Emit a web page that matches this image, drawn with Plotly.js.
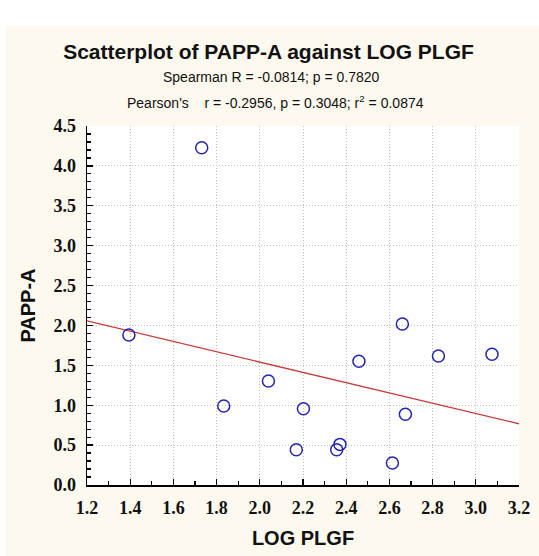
<!DOCTYPE html>
<html>
<head>
<meta charset="utf-8">
<script src="https://cdn.plot.ly/plotly-3.0.1.min.js"></script>
<style>
  html, body { margin: 0; padding: 0; background: #ffffff; }
  #chart { width: 539px; height: 556px; }
</style>
</head>
<body>
<div id="chart"></div>
<script>
// LOG PLGF (x) and PAPP-A (y) for each case
const logPlgf = [1.394, 1.731, 1.833, 2.040, 2.202, 2.169, 2.356, 2.371, 2.459, 2.660, 2.614, 2.674, 2.827, 3.075];
const pappA   = [1.881, 4.227, 0.990, 1.304, 0.956, 0.442, 0.442, 0.509, 1.551, 2.019, 0.275, 0.886, 1.617, 1.639];

const xTickVals = [1.2, 1.4, 1.6, 1.8, 2.0, 2.2, 2.4, 2.6, 2.8, 3.0, 3.2];
const xTickText = ['1.2', '1.4', '1.6', '1.8', '2.0', '2.2', '2.4', '2.6', '2.8', '3.0', '3.2'];
const yTickVals = [0, 0.5, 1.0, 1.5, 2.0, 2.5, 3.0, 3.5, 4.0, 4.5];
const yTickText = ['0.0', '0.5', '1.0', '1.5', '2.0', '2.5', '3.0', '3.5', '4.0', '4.5'];

const chartTitle = 'Scatterplot of PAPP-A against LOG PLGF';
const spearmanText = 'Spearman R = -0.0814; p = 0.7820';
const pearsonText = "Pearson's\u00A0\u00A0\u00A0\u00A0r = -0.2956, p = 0.3048; r<sup>2</sup> = 0.0874";

// ordinary least-squares fit of PAPP-A on LOG PLGF
function linearFit(xs, ys) {
  const n = xs.length;
  const mx = xs.reduce((a, b) => a + b, 0) / n;
  const my = ys.reduce((a, b) => a + b, 0) / n;
  let sxy = 0, sxx = 0;
  for (let i = 0; i < n; i++) {
    sxy += (xs[i] - mx) * (ys[i] - my);
    sxx += (xs[i] - mx) * (xs[i] - mx);
  }
  const slope = sxy / sxx;
  return { slope: slope, intercept: my - slope * mx };
}
const fit = linearFit(logPlgf, pappA);
const fitX = [xTickVals[0], xTickVals[xTickVals.length - 1]];
const fitY = fitX.map(v => fit.intercept + fit.slope * v);

const sans = 'Liberation Sans, Arial, sans-serif';
const tickFont = { family: 'Liberation Serif, Times New Roman, serif', size: 18, color: '#111111', weight: 'bold' };
const labelFont = { family: sans, size: 20, color: '#111111', weight: 'bold' };
const noteFont = { family: sans, size: 14, color: '#111111' };

const traces = [
  {
    x: fitX, y: fitY, type: 'scatter', mode: 'lines',
    line: { color: '#c83c3c', width: 1.4 },
    hoverinfo: 'skip', showlegend: false
  },
  {
    x: logPlgf, y: pappA, type: 'scatter', mode: 'markers',
    marker: { symbol: 'circle-open', size: 12, color: '#2424b0', line: { width: 1.5, color: '#2424b0' } },
    showlegend: false
  }
];

// plot area in pixels: left 87, right 519, top 126, bottom 485
const px = v => (v - 87) / 432;
const py = v => (485 - v) / 359;

const layout = {
  width: 539, height: 556,
  margin: { l: 87, r: 20, t: 126, b: 71, pad: 0 },
  paper_bgcolor: '#fdf9ee',
  plot_bgcolor: '#ffffff',
  showlegend: false,
  title: {
    text: '<b>' + chartTitle + '</b>',
    font: { family: sans, size: 21, color: '#111111' },
    x: 268.5 / 539, xanchor: 'center', xref: 'container',
    y: 1 - 52 / 556, yanchor: 'middle', yref: 'container'
  },
  xaxis: {
    range: [1.2, 3.2],
    tickvals: xTickVals, ticktext: xTickText,
    tickfont: tickFont,
    ticks: 'inside', ticklen: 6, tickwidth: 1.3, tickcolor: '#000000',
    minor: { dtick: 0.1, ticks: 'inside', ticklen: 4, tickwidth: 1.2, tickcolor: '#000000', showgrid: false },
    showline: true, linecolor: '#000000', linewidth: 1.5, mirror: false,
    showgrid: true, gridcolor: '#c0c0c0', gridwidth: 1, griddash: '1px,2px',
    zeroline: false, ticklabelstandoff: 6,
    title: { text: '<b>LOG PLGF</b>', font: labelFont, standoff: 14 }
  },
  yaxis: {
    range: [0, 4.5],
    tickvals: yTickVals, ticktext: yTickText,
    tickfont: tickFont,
    ticks: 'inside', ticklen: 6, tickwidth: 1.3, tickcolor: '#000000',
    minor: { dtick: 0.1, ticks: 'inside', ticklen: 4, tickwidth: 1.2, tickcolor: '#000000', showgrid: false },
    showline: true, linecolor: '#000000', linewidth: 1.5, mirror: false,
    showgrid: true, gridcolor: '#c0c0c0', gridwidth: 1, griddash: '1px,2px',
    zeroline: false, ticklabelstandoff: 6,
    title: { text: '<b>PAPP-A</b>', font: labelFont, standoff: 12 }
  },
  annotations: [
    {
      text: spearmanText, showarrow: false,
      xref: 'paper', yref: 'paper', xanchor: 'left', yanchor: 'middle',
      x: px(161), y: py(77), font: noteFont
    },
    {
      text: pearsonText, showarrow: false,
      xref: 'paper', yref: 'paper', xanchor: 'left', yanchor: 'middle',
      x: px(125), y: py(102), font: noteFont
    }
  ],
  shapes: [
    // white strips along the top and left edges of the page
    { type: 'rect', xref: 'paper', yref: 'paper', layer: 'below',
      x0: px(0), x1: px(539), y0: py(26), y1: py(0),
      fillcolor: '#ffffff', line: { width: 0 } },
    { type: 'rect', xref: 'paper', yref: 'paper', layer: 'below',
      x0: px(0), x1: px(6), y0: py(556), y1: py(0),
      fillcolor: '#ffffff', line: { width: 0 } }
  ]
};

Plotly.newPlot('chart', traces, layout, { displayModeBar: false, staticPlot: true });
</script>
</body>
</html>
